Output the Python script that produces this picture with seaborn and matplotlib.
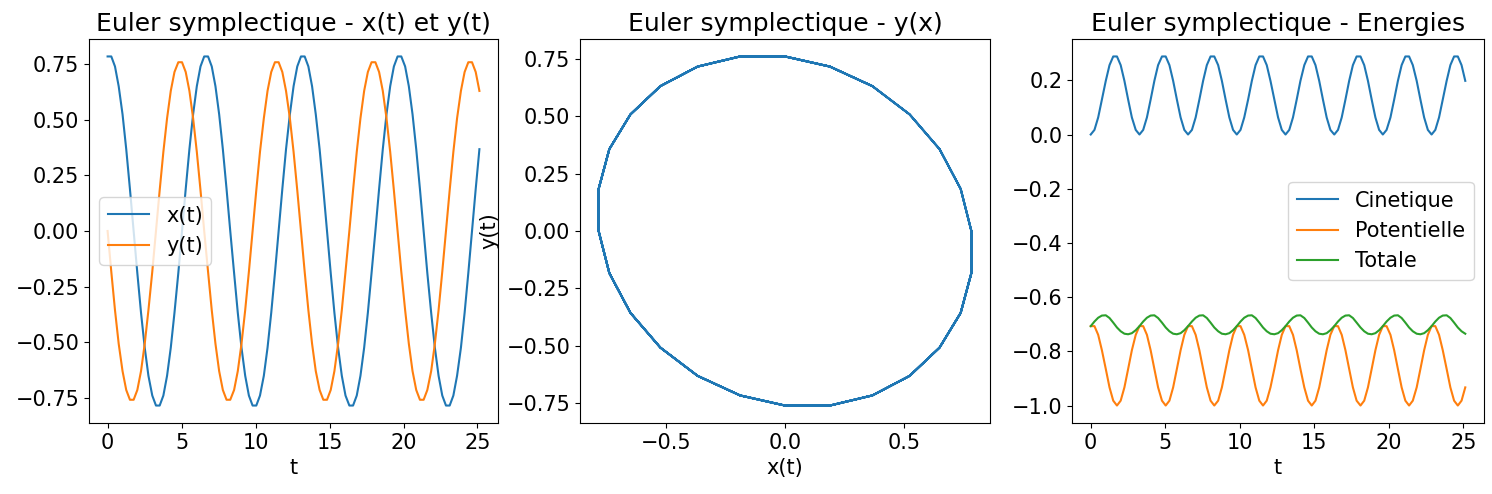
import matplotlib
matplotlib.use("Agg")
import matplotlib.pyplot as plt
import matplotlib.ticker as mticker
import seaborn as sns

plt.rcParams['font.size'] = 15

# --- Data (Euler symplectique, pendule, 101 pas) ---
t = [0.00, 0.25, 0.50, 0.75, 1.01, 1.26, 1.51, 1.76, 2.01, 2.26,
     2.51, 2.76, 3.02, 3.27, 3.52, 3.77, 4.02, 4.27, 4.52, 4.78,
     5.03, 5.28, 5.53, 5.78, 6.03, 6.28, 6.53, 6.79, 7.04, 7.29,
     7.54, 7.79, 8.04, 8.29, 8.55, 8.80, 9.05, 9.30, 9.55, 9.80,
     10.05, 10.30, 10.56, 10.81, 11.06, 11.31, 11.56, 11.81, 12.06, 12.32,
     12.57, 12.82, 13.07, 13.32, 13.57, 13.82, 14.07, 14.33, 14.58, 14.83,
     15.08, 15.33, 15.58, 15.83, 16.08, 16.34, 16.59, 16.84, 17.09, 17.34,
     17.59, 17.84, 18.10, 18.35, 18.60, 18.85, 19.10, 19.35, 19.60, 19.85,
     20.11, 20.36, 20.61, 20.86, 21.11, 21.36, 21.61, 21.87, 22.12, 22.37,
     22.62, 22.87, 23.12, 23.37, 23.62, 23.88, 24.13, 24.38, 24.63, 24.88,
     25.13]

x = [0.785, 0.785, 0.740, 0.651, 0.525, 0.368, 0.189, 0.000, -0.189, -0.368,
     -0.525, -0.651, -0.740, -0.785, -0.785, -0.740, -0.651, -0.525, -0.368, -0.189,
     0.000, 0.189, 0.368, 0.525, 0.651, 0.740, 0.785, 0.785, 0.740, 0.651,
     0.525, 0.368, 0.189, 0.000, -0.189, -0.368, -0.525, -0.651, -0.740, -0.785,
     -0.785, -0.740, -0.651, -0.525, -0.368, -0.189, 0.000, 0.189, 0.368, 0.525,
     0.651, 0.740, 0.785, 0.785, 0.740, 0.651, 0.525, 0.368, 0.189, 0.000,
     -0.189, -0.368, -0.525, -0.651, -0.740, -0.785, -0.785, -0.740, -0.651, -0.525,
     -0.368, -0.189, 0.000, 0.189, 0.368, 0.525, 0.651, 0.740, 0.785, 0.785,
     0.740, 0.651, 0.525, 0.368, 0.189, 0.000, -0.189, -0.368, -0.525, -0.651,
     -0.740, -0.785, -0.785, -0.740, -0.651, -0.525, -0.368, -0.189, 0.000, 0.189,
     0.368]

y = [0.000, -0.183, -0.356, -0.507, -0.630, -0.715, -0.759, -0.759, -0.715, -0.630,
     -0.507, -0.356, -0.183, 0.000, 0.183, 0.356, 0.507, 0.630, 0.715, 0.759,
     0.759, 0.715, 0.630, 0.507, 0.356, 0.183, 0.000, -0.183, -0.356, -0.507,
     -0.630, -0.715, -0.759, -0.759, -0.715, -0.630, -0.507, -0.356, -0.183, 0.000,
     0.183, 0.356, 0.507, 0.630, 0.715, 0.759, 0.759, 0.715, 0.630, 0.507,
     0.356, 0.183, 0.000, -0.183, -0.356, -0.507, -0.630, -0.715, -0.759, -0.759,
     -0.715, -0.630, -0.507, -0.356, -0.183, 0.000, 0.183, 0.356, 0.507, 0.630,
     0.715, 0.759, 0.759, 0.715, 0.630, 0.507, 0.356, 0.183, 0.000, -0.183,
     -0.356, -0.507, -0.630, -0.715, -0.759, -0.759, -0.715, -0.630, -0.507, -0.356,
     -0.183, 0.000, 0.183, 0.356, 0.507, 0.630, 0.715, 0.759, 0.759, 0.715,
     0.630]

cinetique = [0.000, 0.017, 0.063, 0.129, 0.198, 0.256, 0.288, 0.288, 0.256, 0.198,
             0.129, 0.063, 0.017, 0.000, 0.017, 0.063, 0.129, 0.198, 0.256, 0.288,
             0.288, 0.256, 0.198, 0.129, 0.063, 0.017, 0.000, 0.017, 0.063, 0.129,
             0.198, 0.256, 0.288, 0.288, 0.256, 0.198, 0.129, 0.063, 0.017, 0.000,
             0.017, 0.063, 0.129, 0.198, 0.256, 0.288, 0.288, 0.256, 0.198, 0.129,
             0.063, 0.017, 0.000, 0.017, 0.063, 0.129, 0.198, 0.256, 0.288, 0.288,
             0.256, 0.198, 0.129, 0.063, 0.017, 0.000, 0.017, 0.063, 0.129, 0.198,
             0.256, 0.288, 0.288, 0.256, 0.198, 0.129, 0.063, 0.017, 0.000, 0.017,
             0.063, 0.129, 0.198, 0.256, 0.288, 0.288, 0.256, 0.198, 0.129, 0.063,
             0.017, 0.000, 0.017, 0.063, 0.129, 0.198, 0.256, 0.288, 0.288, 0.256,
             0.198]

potentielle = [-0.707, -0.707, -0.739, -0.796, -0.865, -0.933, -0.982, -1.000, -0.982, -0.933,
               -0.865, -0.796, -0.739, -0.707, -0.707, -0.739, -0.796, -0.865, -0.933, -0.982,
               -1.000, -0.982, -0.933, -0.865, -0.796, -0.739, -0.707, -0.707, -0.739, -0.796,
               -0.865, -0.933, -0.982, -1.000, -0.982, -0.933, -0.865, -0.796, -0.739, -0.707,
               -0.707, -0.739, -0.796, -0.865, -0.933, -0.982, -1.000, -0.982, -0.933, -0.865,
               -0.796, -0.739, -0.707, -0.707, -0.739, -0.796, -0.865, -0.933, -0.982, -1.000,
               -0.982, -0.933, -0.865, -0.796, -0.739, -0.707, -0.707, -0.739, -0.796, -0.865,
               -0.933, -0.982, -1.000, -0.982, -0.933, -0.865, -0.796, -0.739, -0.707, -0.707,
               -0.739, -0.796, -0.865, -0.933, -0.982, -1.000, -0.982, -0.933, -0.865, -0.796,
               -0.739, -0.707, -0.707, -0.739, -0.796, -0.865, -0.933, -0.982, -1.000, -0.982,
               -0.933]

totale = [-0.707, -0.690, -0.676, -0.668, -0.667, -0.677, -0.694, -0.712, -0.726, -0.735,
          -0.737, -0.733, -0.722, -0.707, -0.690, -0.676, -0.668, -0.667, -0.677, -0.694,
          -0.712, -0.726, -0.735, -0.737, -0.733, -0.722, -0.707, -0.690, -0.676, -0.668,
          -0.667, -0.677, -0.694, -0.712, -0.726, -0.735, -0.737, -0.733, -0.722, -0.707,
          -0.690, -0.676, -0.668, -0.667, -0.677, -0.694, -0.712, -0.726, -0.735, -0.737,
          -0.733, -0.722, -0.707, -0.690, -0.676, -0.668, -0.667, -0.677, -0.694, -0.712,
          -0.726, -0.735, -0.737, -0.733, -0.722, -0.707, -0.690, -0.676, -0.668, -0.667,
          -0.677, -0.694, -0.712, -0.726, -0.735, -0.737, -0.733, -0.722, -0.707, -0.690,
          -0.676, -0.668, -0.667, -0.677, -0.694, -0.712, -0.726, -0.735, -0.737, -0.733,
          -0.722, -0.707, -0.690, -0.676, -0.668, -0.667, -0.677, -0.694, -0.712, -0.726,
          -0.735]

fig, axes = plt.subplots(1, 3, figsize=(14.92, 4.94), dpi=100)

# axes placed like the reference (pixels -> figure fraction)
W, H = 1492, 494
boxes = [(89, 498), (580, 990), (1072, 1484)]
for ax, (l, r) in zip(axes, boxes):
    ax.set_position([l / W, (H - 423) / H, (r - l) / W, (423 - 39) / H])

# x(t) et y(t)
sns.lineplot(x=t, y=x, ax=axes[0], label='x(t)', color='C0')
sns.lineplot(x=t, y=y, ax=axes[0], label='y(t)', color='C1')
axes[0].set_title('Euler symplectique - x(t) et y(t)', fontsize=18)
axes[0].set_xlabel('t')
axes[0].yaxis.set_major_locator(mticker.MultipleLocator(0.25))
axes[0].legend(loc='center left')

# y(x)
sns.lineplot(x=x, y=y, ax=axes[1], sort=False, estimator=None, color='C0')
axes[1].set_title('Euler symplectique - y(x)', fontsize=18)
axes[1].set_xlabel('x(t)')
axes[1].set_ylabel('y(t)', labelpad=5)
axes[1].yaxis.set_major_locator(mticker.MultipleLocator(0.25))

# Energies
sns.lineplot(x=t, y=cinetique, ax=axes[2], label='Cinetique', color='C0')
sns.lineplot(x=t, y=potentielle, ax=axes[2], label='Potentielle', color='C1')
sns.lineplot(x=t, y=totale, ax=axes[2], label='Totale', color='C2')
axes[2].set_title('Euler symplectique - Energies', fontsize=18)
axes[2].set_xlabel('t')
axes[2].legend(loc='center right')

fig.savefig('out.png', dpi=100)
